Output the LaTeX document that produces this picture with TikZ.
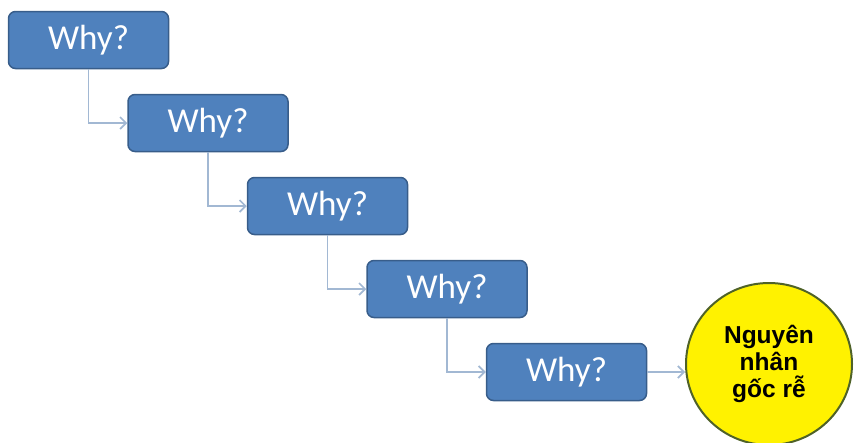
\documentclass[tikz,border=0pt]{standalone}
\usepackage{fontspec}
\setmainfont{Carlito}
\newfontfamily\rootfont{Liberation Sans}
\usepackage{tikz}
\usetikzlibrary{shapes.geometric,arrows.meta,positioning}
\definecolor{boxblue}{HTML}{4F81BD}
\definecolor{boxedge}{HTML}{385D8A}
\definecolor{linkblue}{HTML}{A2B8D3}
\definecolor{rootedge}{HTML}{4F6228}
\tikzstyle{WHY_BOX} = [rectangle, rounded corners=7pt, draw=boxedge, line width=1.5pt, fill=boxblue, text=white, minimum width=160pt, minimum height=57pt, font=\fontsize{35}{35}\selectfont]
\tikzstyle{ROOT_ELLIPSE} = [ellipse, draw=rootedge, line width=2pt, fill=yellow, align=center, inner sep=0pt, minimum width=166pt, minimum height=162pt, font=\rootfont\bfseries\fontsize{24.5}{27}\selectfont]
\tikzstyle{LINE} = [draw=linkblue, line width=1.7pt, -{Straight Barb[length=6pt,width=12pt]}]

\begin{document}
\begin{tikzpicture}[x=1pt, y=-1pt, node distance=24.5pt]
\useasboundingbox (0,0) rectangle (854,442);
% Place node
\node [WHY_BOX] (WHY_1) at (88.5,40) {Why?};
\node [WHY_BOX, below=of WHY_1, xshift=119.5pt] (WHY_2) {Why?};
\node [WHY_BOX, below=of WHY_2, xshift=119.5pt] (WHY_3) {Why?};
\node [WHY_BOX, below=of WHY_3, xshift=119.5pt] (WHY_4) {Why?};
\node [WHY_BOX, below=of WHY_4, xshift=119.5pt] (WHY_5) {Why?};
%
\node [ROOT_ELLIPSE] (ROOT) at (769,364) {Nguyên\\ nhân\\ gốc rễ};
% LINES and ARROWS
\path [LINE] (WHY_1) |- (WHY_2);
\path [LINE] (WHY_2) |- (WHY_3);
\path [LINE] (WHY_3) |- (WHY_4);
\path [LINE] (WHY_4) |- (WHY_5);
\path [LINE] (WHY_5) -- (WHY_5 -| ROOT.west);
\end{tikzpicture}
\end{document}
